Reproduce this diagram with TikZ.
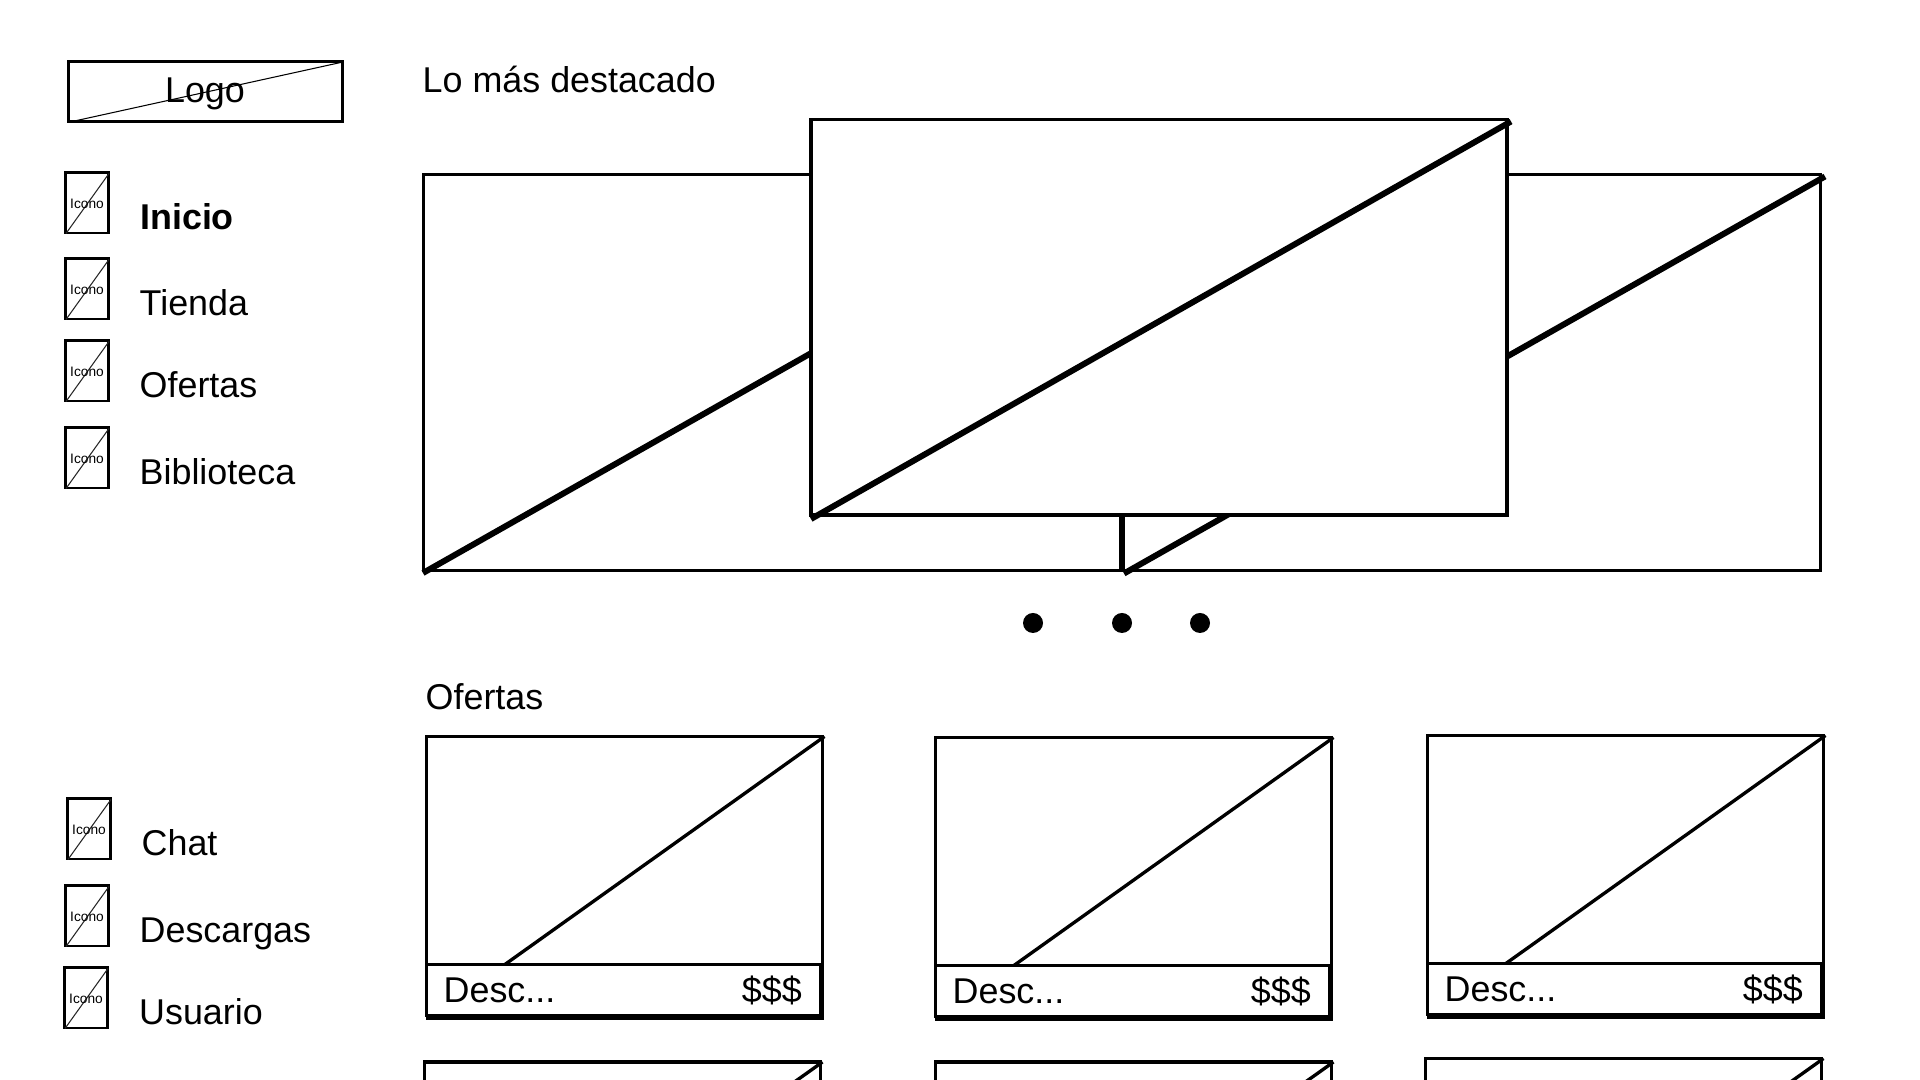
\documentclass[tikz,border=0pt]{standalone}
\usepackage{fontspec}
\setmainfont{Liberation Sans}
\newcommand{\txtM}{\fontsize{10.2pt}{12pt}\selectfont}
\newcommand{\txtS}{\fontsize{3.9pt}{4.5pt}\selectfont}
\tikzset{
  x=0.01cm, y=-0.01cm,
  boxline/.style={draw=black, line width=0.95pt, fill=white},
  smallbox/.style={draw=black, line width=0.8pt, fill=white},
  heavydiag/.style={draw=black, line width=1.7pt},
  carddiag/.style={draw=black, line width=0.95pt},
  thindiag/.style={draw=black!85, line width=0.3pt},
  label/.style={anchor=base west, inner sep=0pt, font=\txtM},
  iconlabel/.style={anchor=base, inner sep=0pt, font=\txtS},
  pagerdot/.style={circle, fill=black, inner sep=0pt, minimum size=0.2cm},
}
\newcommand{\navicon}[3]{% x, y, name
  \begin{scope}[shift={(#1,#2)}]
    \draw[smallbox] (0.5,0) rectangle (43.5,60.5);
    \draw[thindiag] (1,61) -- (44,1);
    \node[iconlabel] (#3) at (22,36) {Icono};
  \end{scope}
}
\newcommand{\offerimage}[2]{% x, y
  \begin{scope}[shift={(#1,#2)}]
    \draw[boxline] (0,0) rectangle (396,228);
    \draw[carddiag] (77,229) -- (398,0);
  \end{scope}
}
\newcommand{\offercard}[3]{% x, y, name
  \offerimage{#1}{#2}
  \begin{scope}[shift={(#1,#2)}]
    \draw[boxline] (0,228) rectangle (394,279);
    \draw[draw=black, line width=1.2pt] (395,228) -- (395,282);
    \draw[draw=black, line width=1.5pt] (-1,281) -- (397,281);
    \node[label] (#3d) at (16.5,266) {Desc...};
    \node[label, anchor=base east] (#3p) at (376,266) {\$\$\$};
  \end{scope}
}
\begin{document}
\begin{tikzpicture}
\useasboundingbox (0,0) rectangle (1920,1080);
\clip (0,0) rectangle (1920,1080);

% logo
\draw[smallbox] (68.5,61.5) rectangle (342.5,121.5);
\draw[draw=black, line width=0.3pt] (70,122) -- (343,62);
\node[anchor=base, inner sep=0pt, font=\txtM] (logo) at (205,102.5) {Logo};

% top navigation
\navicon{65}{172.5}{ic1}
\navicon{65}{258.5}{ic2}
\navicon{65}{340.5}{ic3}
\navicon{65}{427.5}{ic4}
\node[label, font=\txtM\bfseries] (inicio) at (139.5,230) {Inicio};
\node[label] (tienda) at (139,315.5) {Tienda};
\node[label] (ofertasnav) at (139,398) {Ofertas};
\node[label] (biblioteca) at (139,485) {Biblioteca};

% bottom navigation
\navicon{67}{798.5}{ic5}
\navicon{65}{885.5}{ic6}
\navicon{64}{967.5}{ic7}
\node[label] (chat) at (141,856) {Chat};
\node[label] (descargas) at (139,942.5) {Descargas};
\node[label] (usuario) at (138.5,1025) {Usuario};

% headings
\node[label] (destacado) at (422,93) {Lo más destacado};
\node[label] (ofertas) at (425,710) {Ofertas};

% carousel
\draw[boxline] (423.5,174.5) rectangle (1820.5,570.5);
\draw[heavydiag] (423,573) -- (1122,177);
\draw[heavydiag] (1122,515) -- (1122,572);
\draw[heavydiag] (1124,573.5) -- (1825,176.5);
\draw[boxline] (811,119.5) rectangle (1507,515);
\draw[heavydiag] (811,519) -- (1511,121.5);

% pager
\node[pagerdot] (d1) at (1033,623) {};
\node[pagerdot] (d2) at (1122,623) {};
\node[pagerdot] (d3) at (1200,623) {};

% cards
\offercard{426.5}{736.5}{a}
\offercard{935.5}{737.5}{b}
\offercard{1427.5}{735.5}{c}
\offerimage{424.5}{1062}
\offerimage{935.5}{1062}
\offerimage{1425.5}{1058.5}
\end{tikzpicture}
\end{document}
